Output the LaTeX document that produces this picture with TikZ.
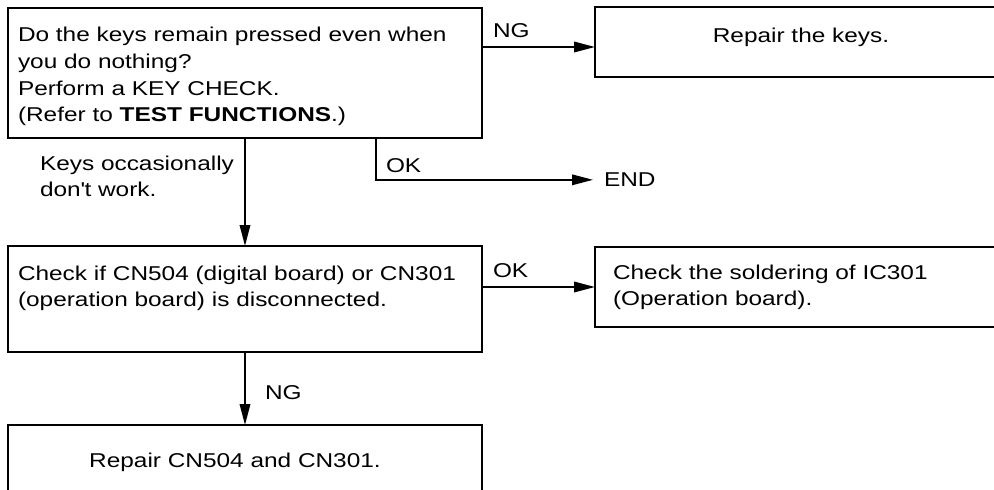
\documentclass[tikz,border=0pt]{standalone}
\usepackage{fontspec}
\setmainfont{Liberation Sans}[FakeStretch=1.22]
\usetikzlibrary{arrows.meta}
\begin{document}
\begin{tikzpicture}[x=1pt,y=-1pt,
  box/.style={draw,line width=2.6pt,rectangle,inner sep=0pt,outer sep=0pt,anchor=north west},
  lbl/.style={inner sep=0pt,outer sep=0pt,anchor=base west,align=left,font=\fontsize{20}{26.7}\selectfont},
  conn/.style={line width=1.8pt,-{Triangle[length=21pt,width=10.5pt]}}]
\useasboundingbox (0,0) rectangle (994,490);
\clip (0,0) rectangle (994,490);
% boxes
\node[box,minimum width=474pt,minimum height=130pt] (b1) at (8,8) {};
\node[box,minimum width=420pt,minimum height=70pt] (b3) at (595,7) {};
\node[box,minimum width=474pt,minimum height=106pt] (b2) at (8,246) {};
\node[box,minimum width=420pt,minimum height=80pt] (b5) at (595,247) {};
\node[box,minimum width=474pt,minimum height=120pt] (b4) at (8,425) {};
% texts (multi-line texts are anchored at the baseline of their last line)
\node[lbl] (t1) at (18,121.8) {Do the keys remain pressed even when\\you do nothing?\\Perform a KEY CHECK.\\(Refer to \textbf{TEST FUNCTIONS}.)};
\node[lbl,anchor=base] (t3) at (801,42) {Repair the keys.};
\node[lbl] (tNG1) at (493,37) {NG};
\node[lbl] (tKeys) at (40,196.7) {Keys occasionally\\don\textquotesingle t work.};
\node[lbl] (tOK1) at (386,172) {OK};
\node[lbl] (tEnd) at (604,186.7) {END};
\node[lbl] (t2) at (18,306.7) {Check if CN504 (digital board) or CN301\\(operation board) is disconnected.};
\node[lbl] (tOK2) at (493,277) {OK};
\node[lbl] (t5) at (613,305.7) {Check the soldering of IC301\\(Operation board).};
\node[lbl] (tNG2) at (265,399) {NG};
\node[lbl,anchor=base] (t4) at (235,467) {Repair CN504 and CN301.};
% connectors
\draw[conn] (b1.east |- 0,47) -- (b3.west |- 0,47);
\draw[conn] (b1.south -| 376,0) |- ([xshift=-11pt]tEnd.west);
\draw[conn] (b1.south -| 245,0) -- (b2.north -| 245,0);
\draw[conn] (b2.east |- 0,287) -- (b5.west |- 0,287);
\draw[conn] (b2.south -| 245,0) -- (b4.north -| 245,0);
\end{tikzpicture}
\end{document}
